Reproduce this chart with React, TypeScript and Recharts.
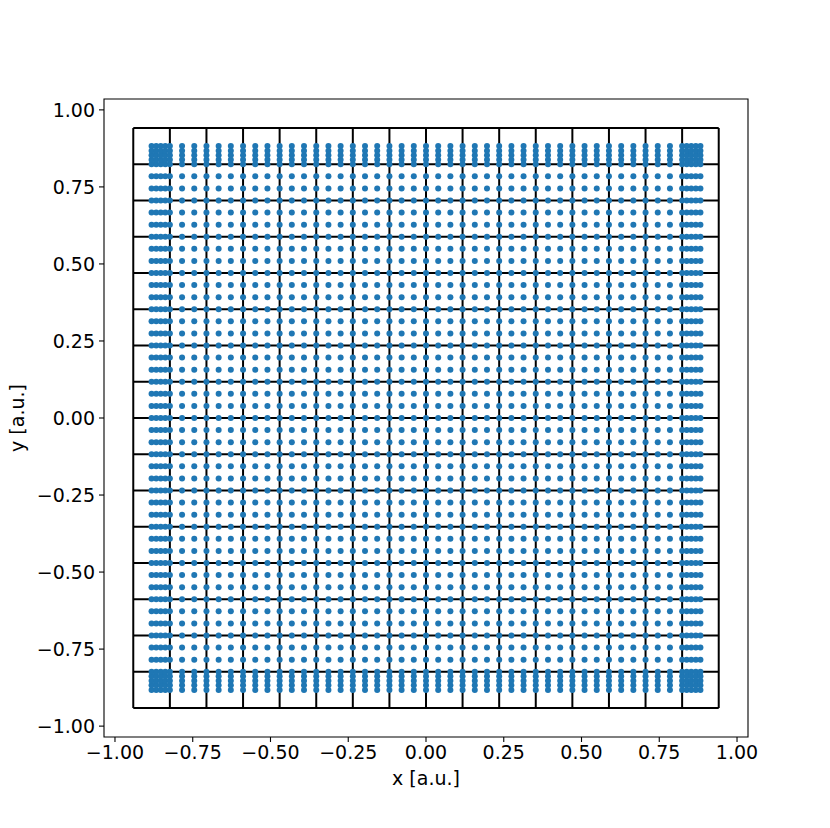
import {
  ScatterChart,
  Scatter,
  XAxis,
  YAxis,
  ReferenceLine,
  ReferenceArea,
} from 'recharts'

// node coordinates along each axis (same set used for x and y)
const coords = [
  -0.8824, -0.8676, -0.8529, -0.8382, -0.8235, -0.7843, -0.7451, -0.7059, -0.6667,
  -0.6275, -0.5882, -0.549, -0.5098, -0.4706, -0.4314, -0.3922, -0.3529, -0.3137,
  -0.2745, -0.2353, -0.1961, -0.1569, -0.1176, -0.0784, -0.0392, 0, 0.0392, 0.0784,
  0.1176, 0.1569, 0.1961, 0.2353, 0.2745, 0.3137, 0.3529, 0.3922, 0.4314, 0.4706,
  0.5098, 0.549, 0.5882, 0.6275, 0.6667, 0.7059, 0.7451, 0.7843, 0.8235, 0.8382,
  0.8529, 0.8676, 0.8824,
]

// cell boundaries of the mesh
const gridLines = [
  -0.9412, -0.8235, -0.7059, -0.5882, -0.4706, -0.3529, -0.2353, -0.1176, 0, 0.1176,
  0.2353, 0.3529, 0.4706, 0.5882, 0.7059, 0.8235, 0.9412,
]

const ticks = [-1, -0.75, -0.5, -0.25, 0, 0.25, 0.5, 0.75, 1]

const lim = 1.0353
const gridMin = gridLines[0]
const gridMax = gridLines[gridLines.length - 1]

const points: Array<{ x: number; y: number }> = []
coords.forEach((x) => coords.forEach((y) => points.push({ x, y })))

const fmt = (v: number) => (v < 0 ? '\u2212' : '') + Math.abs(v).toFixed(2)

const font = 'DejaVu Sans, sans-serif'
const tickStyle = { fontSize: 19, fill: '#000', fontFamily: font }

const Dot = (props: any) => (
  <circle cx={props.cx} cy={props.cy} r={3} fill="#1f77b4" />
)

export default function App() {
  return (
    <div style={{ position: 'absolute', left: 0, top: 0, background: '#fff' }}>
      <ScatterChart
        width={830}
        height={828}
        margin={{ top: 99, right: 82, bottom: 0, left: 0 }}
      >
        <XAxis
          type="number"
          dataKey="x"
          domain={[-lim, lim]}
          ticks={ticks}
          allowDataOverflow
          height={91}
          tickFormatter={fmt}
          tick={tickStyle}
          tickSize={5}
          tickMargin={4}
          axisLine={false}
          tickLine={{ stroke: '#000', strokeWidth: 1.1 }}
          label={{
            position: 'insideBottom',
            content: (p: any) => (
              <text
                x={p.viewBox.x + p.viewBox.width / 2}
                y={785}
                textAnchor="middle"
                fontSize={19}
                fontFamily={font}
                fill="#000"
              >
                x [a.u.]
              </text>
            ),
          }}
        />
        <YAxis
          type="number"
          dataKey="y"
          domain={[-lim, lim]}
          ticks={ticks}
          allowDataOverflow
          width={104}
          tickFormatter={fmt}
          tick={tickStyle}
          tickSize={5}
          tickMargin={4}
          axisLine={false}
          tickLine={{ stroke: '#000', strokeWidth: 1.1 }}
          label={{
            position: 'insideLeft',
            content: (p: any) => {
              const cy = p.viewBox.y + p.viewBox.height / 2
              return (
                <text
                  x={24}
                  y={cy}
                  transform={`rotate(-90, 24, ${cy})`}
                  textAnchor="middle"
                  fontSize={19}
                  fontFamily={font}
                  fill="#000"
                >
                  y [a.u.]
                </text>
              )
            },
          }}
        />
        <ReferenceArea
          x1={-lim}
          x2={lim}
          y1={-lim}
          y2={lim}
          fill="none"
          fillOpacity={0}
          stroke="#000"
          strokeWidth={1.1}
        />
        {gridLines.map((v) => (
          <ReferenceLine
            key={'h' + v}
            segment={[
              { x: gridMin, y: v },
              { x: gridMax, y: v },
            ]}
            stroke="#000"
            strokeWidth={2}
          />
        ))}
        {gridLines.map((v) => (
          <ReferenceLine
            key={'v' + v}
            segment={[
              { x: v, y: gridMin },
              { x: v, y: gridMax },
            ]}
            stroke="#000"
            strokeWidth={2}
          />
        ))}
        <Scatter data={points} shape={Dot} isAnimationActive={false} />
      </ScatterChart>
    </div>
  )
}
